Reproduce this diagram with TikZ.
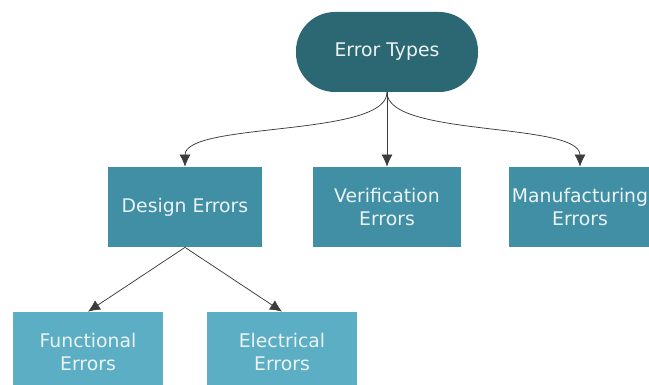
\documentclass[tikz,border=0pt]{standalone}
\usepackage{fontspec}
\setmainfont{DejaVu Sans}
\usepackage{tikz}
\usetikzlibrary{arrows.meta}
\definecolor{roottype}{RGB}{44,103,116}
\definecolor{midtype}{RGB}{64,143,165}
\definecolor{lowtype}{RGB}{91,174,196}
\definecolor{typetext}{RGB}{235,243,245}
\tikzset{
  every picture/.style={line width=0.75pt},
  errbox/.style={draw=none, text=typetext, align=center, inner sep=0pt,
    minimum height=80pt, font=\fontsize{18.8}{23.5}\selectfont},
  rootbox/.style={errbox, fill=roottype, rounded corners=39pt, minimum width=182pt},
  midbox/.style={errbox, fill=midtype, minimum width=148pt},
  lowbox/.style={errbox, fill=lowtype, minimum width=150pt},
  errarrow/.style={draw={rgb,255:red,60;green,60;blue,60}, -{Latex[length=12pt,width=11pt]}}
}
\begin{document}
\begin{tikzpicture}[x=1pt,y=1pt,yscale=-1,xscale=1]
  \useasboundingbox (0,0) rectangle (649,385);
  \clip (0,0) rectangle (649,385);
  % top level
  \node [rootbox] (types) at (387,52) {Error Types};
  % second level
  \node [midbox, minimum width=154pt] (design) at (185,207) {Design Errors};
  \node [midbox] (verif) at (387,207) {Verification\\Errors};
  \node [midbox, minimum width=142pt] (manuf) at (580,207) {Manufacturing\\Errors};
  % third level
  \node [lowbox] (func) at (88,352) {Functional\\Errors};
  \node [lowbox] (elec) at (282,352) {Electrical\\Errors};
  % connectors
  \draw [errarrow] (types.south) .. controls +(0,45) and +(0,-45) .. (design.north);
  \draw [errarrow] (types.south) -- (verif.north);
  \draw [errarrow] (types.south) .. controls +(0,45) and +(0,-45) .. (manuf.north);
  \draw [errarrow] (design.south) -- (func.north);
  \draw [errarrow] (design.south) -- (elec.north);
\end{tikzpicture}
\end{document}
